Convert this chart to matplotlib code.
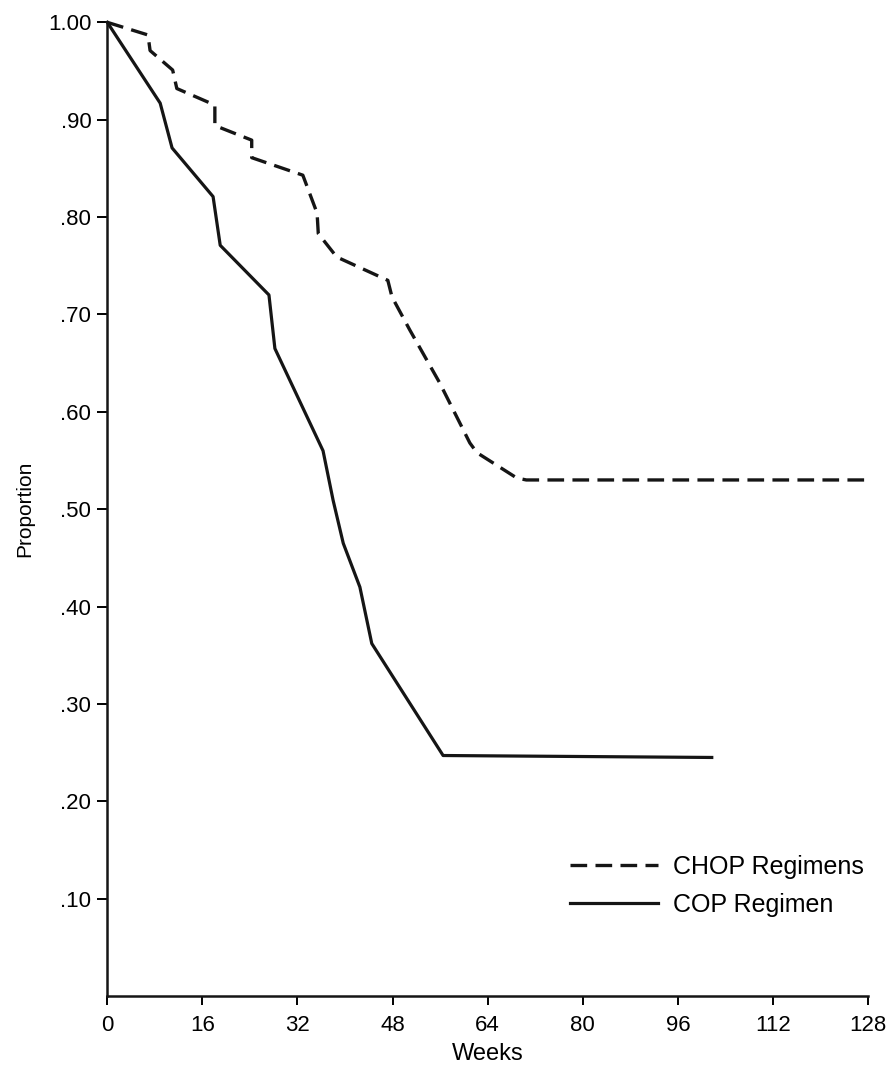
import matplotlib
matplotlib.use('Agg')
import matplotlib.pyplot as plt

# Kaplan-Meier style curves
chop_weeks = [0, 6.85, 7.2, 11.0, 11.7, 18.1, 18.1, 24.3, 24.3, 32.9, 35.3, 35.5,
              38.6, 47.2, 47.9, 50.9, 55.9, 61.0, 62.2, 68.9, 70.5, 128]
chop_prop = [1.00, 0.987, 0.971, 0.951, 0.932, 0.915, 0.894, 0.879, 0.861, 0.843,
             0.804, 0.783, 0.759, 0.735, 0.718, 0.684, 0.630, 0.568, 0.558, 0.532,
             0.530, 0.530]

cop_weeks = [0, 8.9, 10.9, 17.8, 19.0, 27.2, 28.2, 36.3, 38.0, 39.7, 42.5, 44.5,
             56.5, 101.7]
cop_prop = [1.00, 0.917, 0.871, 0.821, 0.771, 0.720, 0.665, 0.560, 0.509, 0.465,
            0.420, 0.362, 0.247, 0.245]

x_ticks = [0, 16, 32, 48, 64, 80, 96, 112, 128]
y_ticks = [0.1, 0.2, 0.3, 0.4, 0.5, 0.6, 0.7, 0.8, 0.9, 1.0]
y_labels = ['.10', '.20', '.30', '.40', '.50', '.60', '.70', '.80', '.90', '1.00']


def main():
    plt.rcParams['font.family'] = ['Liberation Sans', 'DejaVu Sans']
    plt.rcParams['lines.scale_dashes'] = False

    fig = plt.figure(figsize=(8.94, 10.68), dpi=100)
    ax = fig.add_axes([0.12, 0.0674, 0.851, 0.9117])

    ax.plot(chop_weeks, chop_prop, color='#151515', lw=2.4, dashes=(12, 6),
            label='CHOP Regimens', clip_on=False)
    ax.plot(cop_weeks, cop_prop, color='#151515', lw=2.3,
            label='COP Regimen', clip_on=False)

    ax.set_xlim(0, 128)
    ax.set_ylim(0, 1.0)
    ax.set_xticks(x_ticks)
    ax.set_yticks(y_ticks)
    ax.set_yticklabels(y_labels)

    for side in ['top', 'right']:
        ax.spines[side].set_visible(False)
    for side in ['left', 'bottom']:
        ax.spines[side].set_linewidth(1.8)
        ax.spines[side].set_color('#151515')

    ax.tick_params(axis='y', length=7, width=1.4, pad=4.5, labelsize=16)
    ax.tick_params(axis='x', length=6.5, width=1.4, pad=7, labelsize=16)

    ax.set_xlabel('Weeks', fontsize=17, labelpad=5)
    ax.set_ylabel('Proportion', fontsize=15, labelpad=10)

    ax.legend(loc='upper left', bbox_to_anchor=(0.6376, 0.1995),
              bbox_transform=fig.transFigure, frameon=False, fontsize=18,
              handlelength=3.5, handletextpad=0.6, labelspacing=0.55,
              borderpad=0, borderaxespad=0)

    fig.savefig('out.png', dpi=100)


if __name__ == '__main__':
    main()
